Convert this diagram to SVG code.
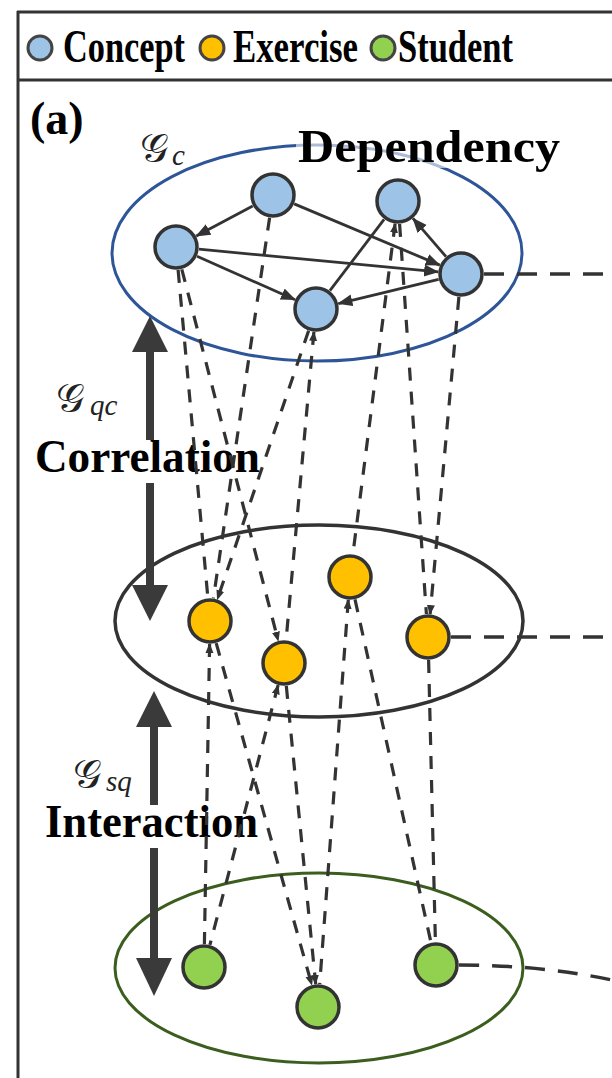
<svg xmlns="http://www.w3.org/2000/svg" width="612" height="1078" viewBox="0 0 612 1078">
<style>
.frame{stroke:#333;stroke-width:3;fill:none}
.lbl{font-family:"Liberation Serif","Times New Roman",serif;font-weight:bold;font-size:46px;fill:#000}
.math{font-family:"DejaVu Sans","Noto Sans",serif;font-size:40px;fill:#222}
.sub{font-family:"Liberation Serif",serif;font-style:italic;font-size:29px;fill:#222}
.concept{fill:#9DC3E6;stroke:#333;stroke-width:3.5}
.exercise{fill:#FFC000;stroke:#333;stroke-width:3.5}
.student{fill:#92D050;stroke:#333;stroke-width:3.5}
.solid{stroke:#333;stroke-width:2.8;fill:none;marker-end:url(#ah)}
.plain{stroke:#333;stroke-width:2.8;fill:none}
.dash{stroke:#333;stroke-width:3.2;fill:none;stroke-dasharray:13 11}
.long{stroke:#333;stroke-width:3.5;fill:none;stroke-dasharray:20 13}
.big{fill:#3a3a3a}
</style>
<defs>
<marker id="ah" markerUnits="userSpaceOnUse" markerWidth="16" markerHeight="14" refX="14" refY="6" orient="auto">
<path d="M0,0 L15,6 L0,12 z" fill="#333"/>
</marker>
<marker id="sa" markerUnits="userSpaceOnUse" markerWidth="11" markerHeight="9" refX="9" refY="4" orient="auto-start-reverse">
<path d="M0,0 L10,4 L0,8 z" fill="#333"/>
</marker>
</defs>
<rect x="0" y="0" width="612" height="1078" fill="#fff"/>

<g id="frame">
<line class="frame" x1="17" y1="12" x2="612" y2="12"/>
<line class="frame" x1="17" y1="80" x2="612" y2="80"/>
<line class="frame" x1="18" y1="11" x2="18" y2="1078"/>
</g>

<g id="legend">
<circle cx="40" cy="48" r="12" fill="#9DC3E6" stroke="#444" stroke-width="3"/>
<text class="lbl" x="63" y="62" textLength="122" lengthAdjust="spacingAndGlyphs">Concept</text>
<circle cx="212" cy="48" r="12" fill="#FFC000" stroke="#444" stroke-width="3"/>
<text class="lbl" x="233" y="62" textLength="125" lengthAdjust="spacingAndGlyphs">Exercise</text>
<circle cx="383" cy="48" r="12" fill="#92D050" stroke="#444" stroke-width="3"/>
<text class="lbl" x="398" y="62" textLength="115" lengthAdjust="spacingAndGlyphs">Student</text>
</g>

<text class="lbl" x="30" y="134">(a)</text>

<g id="layers">
<ellipse id="concept-graph" cx="317" cy="253" rx="205" ry="108" fill="none" stroke="#2E5597" stroke-width="3"/>
<ellipse id="exercise-graph" cx="319" cy="621" rx="204" ry="96" fill="none" stroke="#333" stroke-width="3.5"/>
<ellipse id="student-graph" cx="319" cy="968" rx="204" ry="95" fill="none" stroke="#3B5E1F" stroke-width="3"/>
</g>

<g id="layer-labels">
<text class="math" x="140" y="162">𝒢</text><text class="sub" x="172" y="165">c</text>
<rect x="296" y="128" width="266" height="40" fill="#fff" opacity="0.6"/>
<text class="lbl" x="298" y="162" textLength="262" lengthAdjust="spacingAndGlyphs">Dependency</text>
<text class="math" x="56" y="412">𝒢</text><text class="sub" x="90" y="415">qc</text>
<text class="lbl" x="35" y="472" textLength="225" lengthAdjust="spacingAndGlyphs">Correlation</text>
<text class="math" x="73" y="788">𝒢</text><text class="sub" x="106" y="791">sq</text>
<text class="lbl" x="45" y="837" textLength="213" lengthAdjust="spacingAndGlyphs">Interaction</text>
</g>

<g id="big-arrows">
<path class="big" d="M150,316 L168,352 L132,352 z"/>
<rect class="big" x="146" y="351" width="8" height="89"/>
<rect class="big" x="146" y="483" width="8" height="103"/>
<path class="big" d="M132,585 L168,585 L150,621 z"/>
<path class="big" d="M154,691 L172,727 L136,727 z"/>
<rect class="big" x="150" y="726" width="8" height="79"/>
<rect class="big" x="150" y="848" width="8" height="111"/>
<path class="big" d="M136,958 L172,958 L154,996 z"/>
</g>

<g id="connectors">
<line class="solid" x1="252.7" y1="205.9" x2="196.3" y2="236.1"/>
<line class="solid" x1="294.2" y1="203.9" x2="439.8" y2="265.1"/>
<line class="solid" x1="197" y1="256.3" x2="295" y2="299.7"/>
<line class="solid" x1="198.9" y1="249.2" x2="438.1" y2="271.8"/>
<line class="solid" x1="438.6" y1="279.4" x2="338.4" y2="303.6"/>
<line class="solid" x1="446" y1="256.6" x2="413" y2="218.4"/>
<line class="plain" x1="329.9" y1="290.7" x2="384.1" y2="219.3"/>

<line class="dash" x1="269.6" y1="217.7" x2="213.4" y2="598.3"/>
<line class="dash" x1="178.1" y1="269.9" x2="207.9" y2="598.1"/>
<line class="dash" x1="181.8" y1="269.3" x2="278.2" y2="640.7" marker-end="url(#sa)"/>
<line class="dash" x1="308.6" y1="330.8" x2="217.4" y2="599.2" marker-end="url(#sa)"/>
<line class="dash" x1="313.9" y1="331.9" x2="286.1" y2="640.1" marker-start="url(#sa)"/>
<line class="dash" x1="395.1" y1="223.8" x2="352.9" y2="554.2" marker-start="url(#sa)"/>
<line class="dash" x1="399.6" y1="224" x2="426.4" y2="614"/>
<line class="dash" x1="458.9" y1="296.9" x2="430.1" y2="614.1" marker-end="url(#sa)"/>

<line class="dash" x1="209.6" y1="644" x2="204.4" y2="944" marker-start="url(#sa)"/>
<line class="dash" x1="216.2" y1="643.1" x2="311.8" y2="984.9" marker-end="url(#sa)"/>
<line class="dash" x1="278.1" y1="685.2" x2="209.9" y2="944.8" marker-start="url(#sa)"/>
<line class="dash" x1="286.3" y1="685.9" x2="315.7" y2="984.1" marker-end="url(#sa)"/>
<line class="dash" x1="348.3" y1="599.9" x2="319.7" y2="984.1" marker-start="url(#sa)"/>
<line class="dash" x1="355" y1="599.4" x2="431" y2="942.6"/>
<line class="dash" x1="428.6" y1="660" x2="435.4" y2="942"/>

<line class="long" x1="484" y1="274" x2="612" y2="274"/>
<line class="long" x1="451" y1="637" x2="612" y2="637"/>
<path class="long" d="M459,965 Q540,965 612,980"/>
</g>

<g id="concept-nodes">
<circle id="c1" class="concept" cx="273" cy="195" r="21"/>
<circle id="c2" class="concept" cx="398" cy="201" r="21"/>
<circle id="c3" class="concept" cx="176" cy="247" r="21"/>
<circle id="c4" class="concept" cx="461" cy="274" r="21"/>
<circle id="c5" class="concept" cx="316" cy="309" r="21"/>
</g>
<g id="exercise-nodes">
<circle id="q1" class="exercise" cx="210" cy="621" r="21"/>
<circle id="q2" class="exercise" cx="284" cy="663" r="21"/>
<circle id="q3" class="exercise" cx="350" cy="577" r="21"/>
<circle id="q4" class="exercise" cx="428" cy="637" r="21"/>
</g>
<g id="student-nodes">
<circle id="s1" class="student" cx="204" cy="967" r="21"/>
<circle id="s2" class="student" cx="318" cy="1007" r="21"/>
<circle id="s3" class="student" cx="436" cy="965" r="21"/>
</g>
</svg>
